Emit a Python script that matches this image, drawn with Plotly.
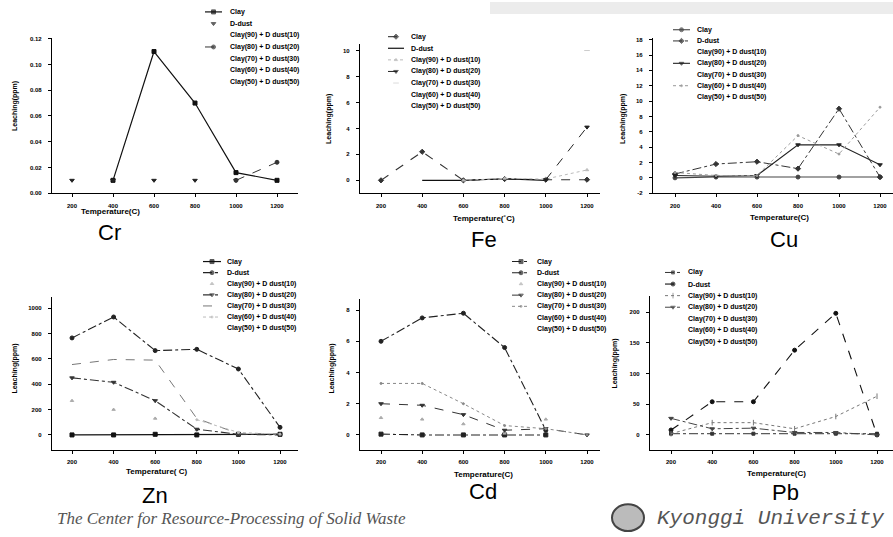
import plotly.graph_objects as go

W, H = 893, 537

# ---------------- data ----------------
TEMPS = [200, 400, 600, 800, 1000, 1200]
X_TICKS = [200, 400, 600, 800, 1000, 1200]
SERIES = ["Clay", "D-dust", "Clay(90) + D dust(10)", "Clay(80) + D dust(20)",
          "Clay(70) + D dust(30)", "Clay(60) + D dust(40)", "Clay(50) + D dust(50)"]
METALS = ["Cr", "Fe", "Cu", "Zn", "Cd", "Pb"]

CR_CLAY = [None, 0.01, 0.11, 0.07, 0.016, 0.01]
CR_DDUST = [0.01, 0.01, 0.01, 0.01, 0.01, None]
CR_CLAY80 = [None, None, None, None, 0.01, 0.024]
CR_YTICKS = [0.0, 0.02, 0.04, 0.06, 0.08, 0.10, 0.12]

FE_CLAY = [0.0, 2.2, 0.0, 0.1, 0.05, 0.05]
FE_DDUST = [None, 0.0, 0.0, 0.12, 0.0, None]
FE_CLAY90 = [None, None, 0.0, 0.15, 0.1, 0.8]
FE_CLAY80 = [None, None, None, None, 0.05, 4.1]
FE_CLAY70 = [None, None, None, None, None, 10.0]
FE_YTICKS = [0, 2, 4, 6, 8, 10]

CU_CLAY = [0.0, 0.1, 0.1, 0.1, 0.1, 0.1]
CU_DDUST = [0.5, 1.8, 2.1, 1.2, 9.0, 0.1]
CU_CLAY80 = [0.3, 0.2, 0.3, 4.3, 4.3, 1.7]
CU_CLAY60 = [0.7, 0.3, 0.3, 5.5, 3.1, 9.2]
CU_YTICKS = [-2, 0, 2, 4, 6, 8, 10, 12, 14, 16, 18]

ZN_CLAY = [0, 0, 5, 0, 5, 5]
ZN_DDUST = [765, 930, 665, 675, 520, 60]
ZN_CLAY90 = [270, 200, 130, 40, 5, 5]
ZN_CLAY80 = [450, 415, 270, 45, 5, 0]
ZN_CLAY70 = [555, 595, 590, 130, 10, 10]
ZN_CLAY60 = [None, None, None, 120, 20, 5]
ZN_YTICKS = [0, 200, 400, 600, 800, 1000]

CD_CLAY = [0.05, 0.0, 0.0, 0.0, 0.0, None]
CD_DDUST = [6.0, 7.5, 7.8, 5.6, 0.3, None]
CD_CLAY90 = [1.1, 1.0, 0.7, 0.1, 1.0, None]
CD_CLAY80 = [2.0, 1.9, 1.3, 0.3, 0.4, 0.0]
CD_CLAY70 = [3.3, 3.3, 2.0, 0.6, 0.4, 0.0]
CD_YTICKS = [0, 2, 4, 6, 8]

PB_CLAY = [2, 2, 2, 2, 2, 2]
PB_DDUST = [8, 54, 54, 138, 198, 0]
PB_CLAY90 = [2, 20, 20, 10, 30, 63]
PB_CLAY80 = [27, 10, 11, 4, 4, 0]
PB_YTICKS = [0, 50, 100, 150, 200]

DATA = {
    "Cr": {"Clay": CR_CLAY, "D-dust": CR_DDUST, SERIES[3]: CR_CLAY80},
    "Fe": {"Clay": FE_CLAY, "D-dust": FE_DDUST, SERIES[2]: FE_CLAY90,
           SERIES[3]: FE_CLAY80, SERIES[4]: FE_CLAY70},
    "Cu": {"Clay": CU_CLAY, "D-dust": CU_DDUST, SERIES[3]: CU_CLAY80, SERIES[5]: CU_CLAY60},
    "Zn": {"Clay": ZN_CLAY, "D-dust": ZN_DDUST, SERIES[2]: ZN_CLAY90, SERIES[3]: ZN_CLAY80,
           SERIES[4]: ZN_CLAY70, SERIES[5]: ZN_CLAY60},
    "Cd": {"Clay": CD_CLAY, "D-dust": CD_DDUST, SERIES[2]: CD_CLAY90, SERIES[3]: CD_CLAY80,
           SERIES[4]: CD_CLAY70},
    "Pb": {"Clay": PB_CLAY, "D-dust": PB_DDUST, SERIES[2]: PB_CLAY90, SERIES[3]: PB_CLAY80},
}
YTICKS = {"Cr": CR_YTICKS, "Fe": FE_YTICKS, "Cu": CU_YTICKS,
          "Zn": ZN_YTICKS, "Cd": CD_YTICKS, "Pb": PB_YTICKS}

# ---------------- styles (mode, color, dash, width, symbol, size) ----------------
STY = {
    "Cr": {"Clay": ("lines+markers", "#111", "solid", 1.2, "square", 4),
           "D-dust": ("markers", "#222", None, 1, "triangle-down", 4),
           SERIES[3]: ("lines+markers", "#333", "dash", 1, "circle", 4)},
    "Fe": {"Clay": ("lines+markers", "#333", "dash", 1.1, "diamond", 4),
           "D-dust": ("lines", "#111", "solid", 1.2, None, 4),
           SERIES[2]: ("lines+markers", "#bbb", "dot", 1, "triangle-up", 3),
           SERIES[3]: ("lines+markers", "#222", "dash", 1, "triangle-down", 4),
           SERIES[4]: ("markers", "#ccc", None, 1, "line-ew", 4)},
    "Cu": {"Clay": ("lines+markers", "#444", "solid", 1.1, "circle", 4),
           "D-dust": ("lines+markers", "#333", "dashdot", 1, "diamond", 4),
           SERIES[3]: ("lines+markers", "#222", "solid", 1.1, "triangle-down", 4),
           SERIES[5]: ("lines+markers", "#999", "dot", 1, "circle", 2)},
    "Zn": {"Clay": ("lines+markers", "#111", "solid", 1.2, "square", 4),
           "D-dust": ("lines+markers", "#222", "dashdot", 1.1, "circle", 4),
           SERIES[2]: ("markers", "#aaa", None, 1, "triangle-up", 3),
           SERIES[3]: ("lines+markers", "#333", "dashdot", 1.1, "triangle-down", 4),
           SERIES[4]: ("lines", "#777", "dash", 1, None, 3),
           SERIES[5]: ("lines+markers", "#bbb", "dot", 1, "circle", 2)},
    "Cd": {"Clay": ("lines+markers", "#222", "dashdot", 1.1, "square", 4),
           "D-dust": ("lines+markers", "#222", "dashdot", 1.1, "circle", 4),
           SERIES[2]: ("markers", "#aaa", None, 1, "triangle-up", 3),
           SERIES[3]: ("lines+markers", "#333", "dash", 1, "triangle-down", 4),
           SERIES[4]: ("lines+markers", "#888", "dot", 1, "circle", 2)},
    "Pb": {"Clay": ("lines+markers", "#333", "dashdot", 1, "square", 3),
           "D-dust": ("lines+markers", "#111", "dash", 1.1, "circle", 4),
           SERIES[2]: ("lines+markers", "#777", "dot", 1, "line-ns", 4),
           SERIES[3]: ("lines+markers", "#444", "dashdot", 1, "triangle-down", 4)},
}

# ---------------- layout geometry (pixels) ----------------
PANEL = {
    "Cr": dict(left=52, right=298, p200=72, p1200=277, top=36, bot=193, t1=(0.0, 193), t2=(0.12, 37), fmt=".2f"),
    "Fe": dict(left=360, right=600, p200=381, p1200=587, top=42, bot=193, t1=(0, 180), t2=(10, 49), fmt="d"),
    "Cu": dict(left=653, right=893, p200=675, p1200=880, top=36, bot=193, t1=(-2, 193), t2=(18, 38), fmt="d"),
    "Zn": dict(left=52, right=298, p200=72, p1200=280, top=298, bot=452, t1=(0, 437), t2=(1000, 309), fmt="d"),
    "Cd": dict(left=360, right=600, p200=381, p1200=587, top=300, bot=452, t1=(0, 437), t2=(8, 311), fmt="d"),
    "Pb": dict(left=650, right=893, p200=671, p1200=877, top=297, bot=452, t1=(0, 437), t2=(200, 313), fmt="d"),
}
LEG = {"Cr": (205, 222, 228, 10, 11.8), "Fe": (388, 404, 409, 35, 11.7),
       "Cu": (673, 690, 695, 28, 11.3), "Zn": (203, 221, 225, 262, 11.2),
       "Cd": (512, 530, 535, 262, 11.3), "Pb": (665, 681, 686, 273, 11.7)}
YTITLE = {"Cr": (15, 105), "Fe": (329, 118), "Cu": (623, 118),
          "Zn": (15, 370), "Cd": (332, 370), "Pb": (615, 365)}
XTITLE = {"Cr": (110, 211, "Temperature(C)"), "Fe": (484, 219, "Temperature(˚C)"),
          "Cu": (779, 218, "Temperature(C)"), "Zn": (157, 474, "Temperature( C)"),
          "Cd": (483, 477, "Temperature(C)"), "Pb": (776, 476, "Temperature(C)")}
BIG = {"Cr": (109, 233), "Fe": (484, 240), "Cu": (784, 240),
       "Zn": (155, 498), "Cd": (483, 494), "Pb": (785, 495)}

FONT = "Liberation Sans, Arial, sans-serif"


def fx(p):
    return p / W


def fy(p):
    return 1 - p / H


fig = go.Figure()
annotations = []
layout = {}

for i, m in enumerate(METALS):
    n = i + 1
    xa = "x" if n == 1 else f"x{n}"
    ya = "y" if n == 1 else f"y{n}"
    P = PANEL[m]
    per = 1000.0 / (P["p1200"] - P["p200"])
    xr = [200 - (P["p200"] - P["left"]) * per, 1200 + (P["right"] - P["p1200"]) * per]
    (v1, q1), (v2, q2) = P["t1"], P["t2"]
    slope = (v2 - v1) / (q2 - q1)
    yr = [v1 + (P["bot"] - q1) * slope, v1 + (P["top"] - q1) * slope]
    axcommon = dict(showline=True, linecolor="black", linewidth=1.4, ticks="outside",
                    ticklen=3, tickwidth=1, tickcolor="black", showgrid=False, zeroline=False,
                    ticklabeloverflow="allow",
                    tickfont=dict(family=FONT, size=6, color="black", weight="bold"))
    layout["xaxis" if n == 1 else f"xaxis{n}"] = dict(
        domain=[fx(P["left"]), min(1, fx(P["right"]))], range=xr, anchor=ya,
        tickvals=X_TICKS, ticktext=[str(t) for t in X_TICKS], ticklabelstandoff=3, **axcommon)
    ytv = YTICKS[m]
    ytt = [f"{t:.2f}" for t in ytv] if P["fmt"] == ".2f" else [str(t) for t in ytv]
    layout["yaxis" if n == 1 else f"yaxis{n}"] = dict(
        domain=[fy(P["bot"]), fy(P["top"])], range=yr, anchor=xa,
        tickvals=ytv, ticktext=ytt, ticklabelstandoff=5, **axcommon)

    for s in SERIES:
        if s not in DATA[m]:
            continue
        mode, col, dash, wd, sym, sz = STY[m][s]
        tr = dict(x=TEMPS, y=DATA[m][s], mode=mode, name=s, showlegend=False,
                  xaxis=xa, yaxis=ya, connectgaps=False, hoverinfo="skip", cliponaxis=False)
        if "lines" in mode:
            tr["line"] = dict(color=col, dash=dash, width=wd)
        if "markers" in mode:
            tr["marker"] = dict(color=col, symbol=sym, size=sz,
                                line=dict(color=col, width=1))
        fig.add_trace(go.Scatter(**tr))

    # axis titles & panel title
    tx, ty = YTITLE[m]
    annotations.append(dict(x=fx(tx), y=fy(ty), xref="paper", yref="paper", text="Leaching(ppm)",
                            textangle=-90, showarrow=False, xanchor="center", yanchor="middle",
                            font=dict(family=FONT, size=7, color="black", weight="bold")))
    tx, ty, tt = XTITLE[m]
    annotations.append(dict(x=fx(tx), y=fy(ty), xref="paper", yref="paper", text=tt,
                            showarrow=False, xanchor="center", yanchor="middle",
                            font=dict(family=FONT, size=8, color="black", weight="bold")))
    tx, ty = BIG[m]
    annotations.append(dict(x=fx(tx), y=fy(ty), xref="paper", yref="paper", text=m,
                            showarrow=False, xanchor="center", yanchor="middle",
                            font=dict(family=FONT, size=22, color="black")))

    # legend (manual, compact)
    sx0, sx1, lx, ly0, dy = LEG[m]
    for k, s in enumerate(SERIES):
        ry = ly0 + k * dy
        annotations.append(dict(x=fx(lx), y=fy(ry), xref="paper", yref="paper", text=s,
                                showarrow=False, xanchor="left", yanchor="middle",
                                font=dict(family=FONT, size=7, color="black", weight="bold")))
        if s in DATA[m]:
            mode, col, dash, wd, sym, sz = STY[m][s]
            tr = dict(x=[sx0, (sx0 + sx1) / 2, sx1], y=[ry, ry, ry], mode=mode,
                      xaxis="x7", yaxis="y7", showlegend=False, hoverinfo="skip")
            if "lines" in mode:
                tr["line"] = dict(color=col, dash=dash, width=wd)
            if "markers" in mode:
                tr["marker"] = dict(color=col, symbol=sym, size=[0, sz, 0],
                                    line=dict(color=col, width=1))
            fig.add_trace(go.Scatter(**tr))

layout["xaxis7"] = dict(domain=[0, 1], range=[0, W], visible=False, anchor="y7")
layout["yaxis7"] = dict(domain=[0, 1], range=[H, 0], visible=False, anchor="x7")

annotations.append(dict(x=fx(55), y=fy(521), xref="paper", yref="paper",
                        text="<i>The Center for Resource-Processing of Solid Waste</i>",
                        showarrow=False, xanchor="left", yanchor="middle",
                        font=dict(family="Liberation Serif, Times New Roman, serif", size=17, color="#555")))
annotations.append(dict(x=fx(655), y=fy(521), xref="paper", yref="paper",
                        text="<i>Kyonggi University</i>",
                        showarrow=False, xanchor="left", yanchor="middle",
                        font=dict(family="Liberation Mono, Courier New, monospace", size=21, color="#555")))

shapes = [
    dict(type="circle", xref="paper", yref="paper", x0=fx(612), x1=fx(644), y0=fy(534), y1=fy(507),
         line=dict(color="#444", width=2), fillcolor="#bbb"),
    dict(type="rect", xref="paper", yref="paper", x0=fx(490), x1=1, y0=fy(12), y1=1,
         line=dict(width=0), fillcolor="rgba(180,180,180,0.25)", layer="below"),
]

fig.update_layout(width=W, height=H, margin=dict(l=0, r=0, t=0, b=0),
                  paper_bgcolor="white", plot_bgcolor="rgba(0,0,0,0)", showlegend=False,
                  annotations=annotations, shapes=shapes, **layout)

fig.write_html("out.html", config={"displayModeBar": False},
               post_script="document.body.style.margin='0px';document.body.style.overflow='hidden';")
